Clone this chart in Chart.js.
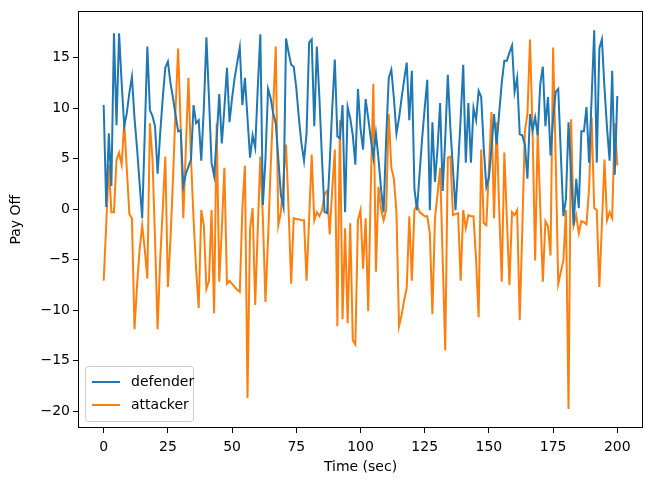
<!DOCTYPE html>
<html>
<head>
<meta charset="utf-8">
<script src="https://cdn.jsdelivr.net/npm/chart.js@4"></script>
<style>
  body { margin: 0; background: #fff; }
  #wrap { width: 645px; height: 483px; }
</style>
</head>
<body>
<div id="wrap"><canvas id="myChart" width="645" height="483"></canvas></div>
<script>
// payoff per second
var defender = [10.3,0.2,7.5,2.3,17.4,8.3,17.4,12.5,8.2,9.5,11.5,13.1,9,6,2.5,-0.9,7.5,16.1,9.8,9.2,
  8.2,3.5,7.5,11,14,14.6,12.5,11,9.3,7.7,7.8,2.3,3.5,4.2,4.9,10.3,8.5,8.8,4.8,10,
  17,11,4.6,3.3,7,11.4,6.5,10,14,8.6,11,13,14.5,16,10.3,13,9,5.1,7.3,6.1,
  12,17.3,0.4,5,11.9,11,9.5,8.5,5,1.4,0.2,16.9,15.5,14.3,14.1,12,9,6.5,4.8,7.5,
  16.5,16.8,8.2,16.1,11,5,-0.3,-0.4,4.5,10,14.8,7.2,7,10.3,-0.3,10.1,9,7.3,4.4,11.9,
  8,5.9,10.9,9,7,5.1,7.5,5,2,-0.3,7,13,13.8,11,7.5,9,11,12.8,14.5,8.8,
  13.7,2,-0.1,3.5,7,10,12.8,-0.1,8.6,2.7,6,10.5,1.8,7,13.3,8,4,-0.1,4.3,9,
  14.3,4.6,10.5,4.6,10,8.8,11.7,11.1,6,2.2,3.1,6,9.4,6.4,9.5,12.5,14.7,14.7,15.5,16.2,
  11.6,13,7.4,7.3,6.4,3,9.4,7.8,9.1,7.3,12.4,14.1,8.2,11.1,5.3,9,11.6,11.9,5.5,-0.7,
  1,8.6,3.5,-1.6,3,0.1,7.7,7.7,10.1,4.6,11,17.7,4.6,15.9,16.8,12,8,4.8,13.7,3.4,
  11.2];
var attacker = [-7.1,-1.5,4.4,-0.3,-0.3,4.9,5.6,4.4,8.6,4,-0.5,-0.9,-11.9,-7.5,-4,-1.6,-4,-6.9,8.5,5,
  -3,-11.9,-5,0,5.2,-7.7,-3,3,10,15.9,8,-0.9,6,13,5,-1,-6,-9.8,-0.1,-1.6,
  -7.9,-7.1,-0.1,-10.3,8.5,-7.2,-2,4.1,-7.4,-7.1,-7.4,-7.7,-8,-8.2,0.1,4.3,-18.7,-1.9,0.1,-9.5,
  -2,5.2,-1,-9.2,-3,4,10,16.1,-1.6,-0.3,3,6.4,0,-7.4,-0.9,-1,-1,-1.1,-1.1,-7.1,
  -1,5.4,-1.1,-0.3,-0.7,-0.1,1.5,1.8,-2.5,2,5.9,-11.6,8.8,-10.9,-1.9,-11.3,-1.4,-13,-13.4,-1.1,
  -0.1,-5.9,-0.9,-10.1,2,12.4,-6.2,2.2,0,-1.1,-0.1,9.4,4.1,3,-0.3,-11.6,-10.5,-9,-7.8,-0.7,
  -7.1,-0.1,0.4,-0.3,-0.5,-0.7,-0.7,-2.4,-10.4,-0.9,1.5,4.1,-5,-14,5.1,5.2,-0.6,-0.5,-0.4,-7.1,
  -0.1,-1.9,-0.6,-0.7,-0.7,-5,-10.7,5.9,-1.4,-1.6,4,9.6,-0.9,8.6,0,-7.2,5.6,-1,-7.5,-0.3,
  -0.6,-0.1,-11,-2,7.7,9.4,16.8,7.8,-5.1,7.8,0,-7.2,-1.2,-1.7,-4.6,16,5,-7.4,-6.2,-5.1,
  -0.1,-19.8,8.9,-1.6,-0.6,-2.4,-1.2,-1.3,-1.5,2,9.1,0.1,-0.1,-7.7,-1.5,4.9,-1.1,-0.3,-0.9,8.5,
  4.3];
var xTicks = [0,25,50,75,100,125,150,175,200];
var yTicks = [-20,-15,-10,-5,0,5,10,15];

var times = [];
for(var i=0;i<defender.length;i++){ times.push(i); } //one sample per second

function pts(arr){ //pair each value with its time
  return arr.map(function(v,i){ return {x: times[i], y: v}; });
}

var font = {family: "DejaVu Sans", size: 14};

//black box round the plot + legend in lower left
var framePlugin = {
  id: 'frame',
  afterDraw: function(chart){
    var ctx = chart.ctx, a = chart.chartArea;
    ctx.save();
    ctx.strokeStyle = '#000';
    ctx.lineWidth = 1;
    ctx.strokeRect(Math.round(a.left)+0.5, Math.round(a.top)+0.5,
      Math.round(a.right-a.left)-1, Math.round(a.bottom-a.top)-1);
    // legend
    var bx = a.left+7, by = a.bottom-62, bw = 108, bh = 55;
    ctx.fillStyle = 'rgba(255,255,255,0.8)';
    ctx.strokeStyle = '#cccccc';
    ctx.beginPath();
    ctx.roundRect(bx+0.5, by+0.5, bw, bh, 3);
    ctx.fill();
    ctx.stroke();
    ctx.font = '14px "DejaVu Sans"';
    ctx.textBaseline = 'middle';
    chart.data.datasets.forEach(function(ds, k){
      var yy = by + 16 + k*23;
      ctx.strokeStyle = ds.borderColor;
      ctx.lineWidth = 2;
      ctx.beginPath();
      ctx.moveTo(bx+7, yy);
      ctx.lineTo(bx+35, yy);
      ctx.stroke();
      ctx.fillStyle = '#000';
      ctx.fillText(ds.label, bx+46, yy);
    });
    ctx.restore();
  }
};

var ctx = document.getElementById('myChart').getContext('2d');
var myChart = new Chart(ctx, {
  type: 'line',
  data: {
    datasets: [{
      label: 'defender',
      data: pts(defender),
      borderColor: '#1f77b4',
      borderWidth: 2,
      pointRadius: 0,
      tension: 0
    },{
      label: 'attacker',
      data: pts(attacker),
      borderColor: '#ff7f0e',
      borderWidth: 2,
      pointRadius: 0,
      tension: 0
    }]
  },
  options: {
    responsive: false,
    animation: false,
    layout: {padding: {top: 5, right: 2, left: 0, bottom: 0}},
    plugins: {legend: {display: false}, tooltip: {enabled: false}},
    scales: {
      x: {
        type: 'linear',
        min: -10, max: 210,
        afterBuildTicks: function(s){ s.ticks = xTicks.map(function(v){ return {value: v}; }); },
        afterFit: function(s){ s.height = 55; },
        grid: {display: true, drawOnChartArea: false, tickLength: 5, color: '#000'},
        border: {display: false},
        ticks: {color: '#000', font: font, padding: 6, maxRotation: 0},
        title: {display: true, text: 'Time (sec)', color: '#000', font: font, padding: {top: 0, bottom: 7}}
      },
      y: {
        min: -21.675, max: 19.575,
        afterBuildTicks: function(s){ s.ticks = yTicks.map(function(v){ return {value: v}; }); },
        afterFit: function(s){ s.width = 78; },
        grid: {display: true, drawOnChartArea: false, tickLength: 5, color: '#000'},
        border: {display: false},
        ticks: {color: '#000', font: font, padding: 3,
          callback: function(v){ return String(v).replace('-', '\u2212'); }},
        title: {display: true, text: 'Pay Off', color: '#000', font: font, padding: {top: 8, bottom: 0}}
      }
    }
  },
  plugins: [framePlugin]
});
</script>
</body>
</html>
